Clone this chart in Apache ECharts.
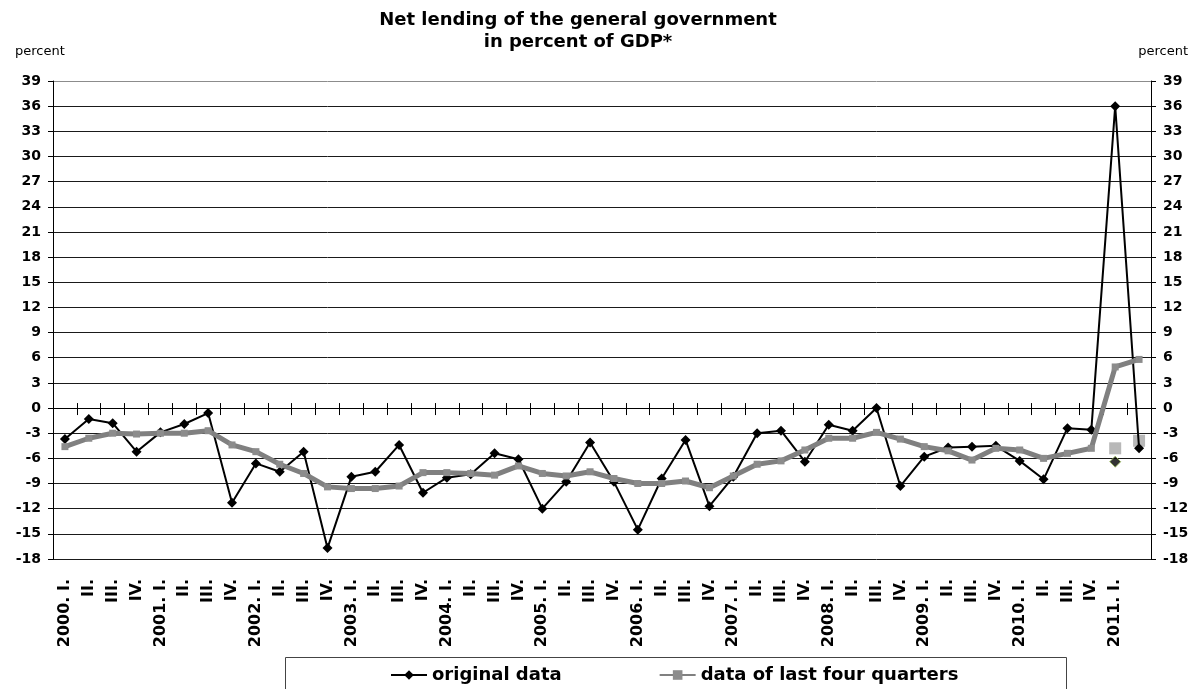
<!DOCTYPE html>
<html>
<head>
<meta charset="utf-8">
<script src="https://cdn.jsdelivr.net/npm/echarts@6/dist/echarts.min.js"></script>
<style>
  html, body { margin: 0; padding: 0; background: #fff; }
  #chart { width: 1203px; height: 689px; }
</style>
</head>
<body>
<div id="chart"></div>
<script>
// Quarter labels, 2000 Q1 .. 2011 Q2 (the last one carries no label)
const quarters = [
  '2000. I.', 'II.', 'III.', 'IV.',
  '2001. I.', 'II.', 'III.', 'IV.',
  '2002. I.', 'II.', 'III.', 'IV.',
  '2003. I.', 'II.', 'III.', 'IV.',
  '2004. I.', 'II.', 'III.', 'IV.',
  '2005. I.', 'II.', 'III.', 'IV.',
  '2006. I.', 'II.', 'III.', 'IV.',
  '2007. I.', 'II.', 'III.', 'IV.',
  '2008. I.', 'II.', 'III.', 'IV.',
  '2009. I.', 'II.', 'III.', 'IV.',
  '2010. I.', 'II.', 'III.', 'IV.',
  '2011. I.', ''
];

// Quarterly net lending, percent of GDP
const originalData = [
  -3.7, -1.3, -1.8, -5.2,
  -2.9, -1.9, -0.6, -11.3,
  -6.6, -7.6, -5.2, -16.7,
  -8.2, -7.6, -4.4, -10.1,
  -8.3, -7.9, -5.4, -6.1,
  -12.0, -8.8, -4.1, -8.8,
  -14.5, -8.4, -3.8, -11.7,
  -8.2, -3.0, -2.7, -6.4,
  -2.0, -2.7, 0.0, -9.3,
  -5.8, -4.7, -4.6, -4.5,
  -6.3, -8.5, -2.4, -2.6,
  36.0, -4.8
];

// Rolling four-quarter figures
const lastFourQuarters = [
  -4.6, -3.6, -3.0, -3.1,
  -3.0, -3.0, -2.7, -4.4,
  -5.2, -6.7, -7.8, -9.4,
  -9.6, -9.6, -9.3, -7.7,
  -7.7, -7.8, -8.0, -6.9,
  -7.8, -8.1, -7.6, -8.4,
  -9.0, -9.0, -8.7, -9.5,
  -8.1, -6.7, -6.3, -5.0,
  -3.6, -3.6, -2.9, -3.7,
  -4.6, -5.1, -6.2, -4.8,
  -5.0, -6.0, -5.4, -4.8,
  4.9, 5.8
];

// Separate markers shown for 2011 only
const extraSquares = new Array(44).fill(null).concat([-4.8, -3.9]);
const extraDiamond = new Array(44).fill(null).concat([-6.4, null]);

const yTicks = { min: -18, max: 39, interval: 3 };

const FONT = 'DejaVu Sans';
const chart = echarts.init(document.getElementById('chart'));

const gridColors = [];
for (let v = yTicks.min; v <= yTicks.max; v += yTicks.interval) {
  gridColors.push(v === yTicks.max ? '#8c8c8c' : '#1a1a1a');
}

const yLabel = { fontFamily: FONT, fontWeight: 'bold', fontSize: 14, color: '#000' };

chart.setOption({
  animation: false,
  backgroundColor: '#fff',
  title: {
    text: 'Net lending of the general government\nin percent of GDP*',
    left: 573,
    textAlign: 'center',
    top: 4,
    textStyle: { fontFamily: FONT, fontWeight: 'bold', fontSize: 18, lineHeight: 22, color: '#000' }
  },
  graphic: [
    { type: 'text', left: 15, top: 45, style: { text: 'percent', fontFamily: FONT, fontSize: 13, fill: '#000' } },
    { type: 'text', right: 15, top: 45, style: { text: 'percent', fontFamily: FONT, fontSize: 13, fill: '#000' } },
    { type: 'rect', left: 283, top: 655, shape: { width: 781, height: 60 },
      style: { fill: 'none', stroke: '#444', lineWidth: 1 }, z: 0 }
  ],
  legend: {
    data: ['original data', 'data of last four quarters'],
    left: 385,
    top: 661,
    itemWidth: 36,
    itemHeight: 12,
    itemGap: 97,
    textStyle: { fontFamily: FONT, fontWeight: 'bold', fontSize: 18, color: '#000' }
  },
  grid: { left: 53, right: 52, top: 81, bottom: 130, containLabel: false },
  xAxis: [
    {
      type: 'category', data: quarters, position: 'bottom', boundaryGap: true,
      axisLine: { onZero: true, onZeroAxisIndex: 0, lineStyle: { color: '#000', width: 1 } },
      axisTick: { show: true, interval: 0, length: 7, lineStyle: { color: '#000' } },
      axisLabel: { show: false }, splitLine: { show: false }
    },
    {
      type: 'category', data: quarters, position: 'top', boundaryGap: true,
      axisLine: { onZero: true, onZeroAxisIndex: 0, lineStyle: { color: '#000', width: 1 } },
      axisTick: { show: true, interval: 0, length: 5, lineStyle: { color: '#000' } },
      axisLabel: { show: false }, splitLine: { show: false }
    },
    {
      type: 'category', data: quarters, position: 'bottom', boundaryGap: true,
      axisLine: { show: false, onZero: false },
      axisTick: { show: false },
      axisLabel: {
        interval: 0, rotate: 90, margin: 20,
        fontFamily: FONT, fontWeight: 'bold', fontSize: 16, color: '#000'
      },
      splitLine: { show: false }
    }
  ],
  yAxis: [
    {
      type: 'value', position: 'left', min: yTicks.min, max: yTicks.max, interval: yTicks.interval,
      axisLine: { show: true, lineStyle: { color: '#000' } },
      axisTick: { show: true, length: 5, lineStyle: { color: '#000' } },
      axisLabel: Object.assign({ margin: 12 }, yLabel),
      splitLine: { show: true, lineStyle: { color: gridColors, width: 1 } }
    },
    {
      type: 'value', position: 'right', min: yTicks.min, max: yTicks.max, interval: yTicks.interval,
      axisLine: { show: true, lineStyle: { color: '#000' } },
      axisTick: { show: true, length: 5, lineStyle: { color: '#000' } },
      axisLabel: Object.assign({ margin: 12 }, yLabel),
      splitLine: { show: false }
    }
  ],
  series: [
    {
      name: 'excluding one-off items', type: 'scatter', xAxisIndex: 0, yAxisIndex: 0,
      data: extraSquares, symbol: 'rect', symbolSize: 12,
      itemStyle: { color: '#a6a6a6' }, z: 1
    },
    {
      name: 'excluding one-off items (quarter)', type: 'scatter', xAxisIndex: 0, yAxisIndex: 0,
      data: extraDiamond, symbol: 'diamond', symbolSize: 11,
      itemStyle: { color: '#000', borderColor: '#9bbb59', borderWidth: 1 }, z: 1
    },
    {
      name: 'original data', type: 'line', xAxisIndex: 0, yAxisIndex: 0,
      data: originalData, symbol: 'diamond', symbolSize: 10, showAllSymbol: true,
      lineStyle: { color: '#000', width: 2 },
      itemStyle: { color: '#000' }, z: 3
    },
    {
      name: 'data of last four quarters', type: 'line', xAxisIndex: 0, yAxisIndex: 0,
      data: lastFourQuarters, symbol: 'rect', symbolSize: 7, showAllSymbol: true,
      lineStyle: { color: '#808080', width: 5 },
      itemStyle: { color: '#8c8c8c' }, z: 4
    }
  ]
});
</script>
</body>
</html>
